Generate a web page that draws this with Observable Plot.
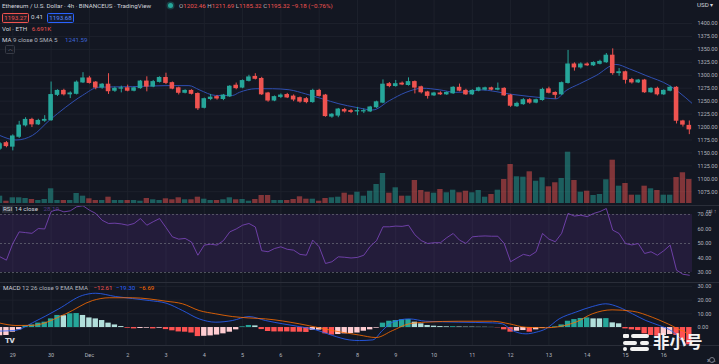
<!DOCTYPE html>
<html><head><meta charset="utf-8">
<script src="https://cdn.jsdelivr.net/npm/d3@7"></script>
<script src="https://cdn.jsdelivr.net/npm/@observablehq/plot@0.6"></script>
<style>
body{margin:0;background:#131722;}
#wrap{position:relative;width:719px;height:364px;background:#131722;overflow:hidden;font-family:Roboto,"Liberation Sans",sans-serif;}
.layer{position:absolute;left:0;}
.t{position:absolute;white-space:nowrap;font-size:6.2px;color:#b2b5be;line-height:1;}
.sep{position:absolute;background:#2a2e39;}
</style></head><body>
<div id="wrap">
  <div class="layer" id="priceGrid" style="top:0"></div>
  <div class="layer" id="vol" style="top:0"></div>
  <div class="layer" id="price" style="top:0"></div>
  <div class="layer" id="rsi" style="top:206px"></div>
  <div class="layer" id="macd" style="top:283px"></div>
  <div class="sep" style="left:0;top:205px;width:719px;height:1px"></div>
  <div class="sep" style="left:0;top:282px;width:719px;height:1px"></div>
  <div class="sep" style="left:0;top:345px;width:719px;height:1px"></div>

  <div class="t" style="left:2px;top:3px;color:#d1d4dc">Ethereum / U.S. Dollar · 4h · BINANCEUS · TradingView</div>
  <div style="position:absolute;left:168px;top:3px;width:5px;height:5px;border-radius:50%;background:#26a69a;box-shadow:0 0 0 1.5px rgba(38,166,154,0.3)"></div>
  <div class="t" style="left:179px;top:3px">O<span style="color:#ef5350">1202.46</span> H<span style="color:#ef5350">1211.69</span> L<span style="color:#ef5350">1185.32</span> C<span style="color:#ef5350">1195.32 −9.18 (−0.76%)</span></div>
  <div class="t" style="left:2px;top:12.5px;width:25px;height:8px;border:0.8px solid #ef5350;border-radius:1.5px;color:#ef5350;text-align:center;line-height:8px;background:rgba(239,83,80,0.08)">1193.27</div>
  <div class="t" style="left:31px;top:14px;color:#d1d4dc">0.41</div>
  <div class="t" style="left:47px;top:12.5px;width:25px;height:8px;border:0.8px solid #2962ff;border-radius:1.5px;color:#5b8cff;text-align:center;line-height:8px;background:rgba(41,98,255,0.08)">1193.68</div>
  <div class="t" style="left:2px;top:26px;color:#d1d4dc">Vol · ETH <span style="color:#ef5350;margin-left:3px">6.691K</span></div>
  <div class="t" style="left:2px;top:36.5px;color:#d1d4dc">MA <span style="color:#b2b5be">9 close 0 SMA 5</span> <span style="color:#3d63d8;margin-left:6px">1241.59</span></div>
  <div class="t" style="left:5px;top:45px;width:8px;height:7px;border:0.8px solid #363a45;border-radius:1.5px;text-align:center;line-height:7px;font-size:5px">︿</div>

  <div class="t" style="left:2px;top:206px;color:#d1d4dc"><span style="background:#2a2e39;padding:0 1px">RSI</span> 14 close <span style="color:#7e57c2;margin-left:4px;opacity:0.6">28.10</span></div>
  <div class="t" style="left:3px;top:285px;color:#d1d4dc">MACD <span style="color:#b2b5be">12 26 close 9 EMA EMA</span> <span style="color:#ef5350;margin-left:4px">−12.61</span> <span style="color:#2962ff;margin-left:2px">−19.30</span> <span style="color:#ff6d00;margin-left:2px">−6.69</span></div>
  <div class="t" style="left:697px;top:2px;color:#d1d4dc">USD ▾</div>
  <div class="t" style="left:5px;top:337px;color:#d1d4dc;font-weight:900;font-size:8px;letter-spacing:-0.5px">TV</div>
  <div style="position:absolute;left:709px;top:357px;width:4px;height:4px;border:0.8px solid #787b86;border-radius:50%"></div>

  <div style="position:absolute;left:623px;top:334px;width:6px;height:4px;border-radius:1px;background:#f2f2f2"></div>
  <div style="position:absolute;left:631px;top:334px;width:18px;height:4px;border-radius:2px;background:#f2f2f2"></div>
  <div style="position:absolute;left:623px;top:340.5px;width:14px;height:4px;border-radius:2px;background:#f2f2f2"></div>
  <div style="position:absolute;left:640px;top:340.5px;width:9px;height:4px;border-radius:2px;background:#f2f2f2"></div>
  <div style="position:absolute;left:623px;top:347px;width:4px;height:4px;border-radius:50%;background:#f2f2f2"></div>
  <div style="position:absolute;left:630px;top:347px;width:19px;height:4px;border-radius:2px;background:#f2f2f2"></div>
  <div class="t" style="left:653px;top:333px;height:17px;line-height:17px;color:#f2f2f2;font-size:16.5px;font-weight:700;font-family:'Noto Sans CJK SC',sans-serif">非小号</div>
</div>
<script>
// ---- data ----
const dayIdx = [2,8,14,20,26,32,38,44,50,56,62,68,74,80,86,92,98,104];
const dayLabels = ["29","30","Dec","2","3","4","5","6","7","8","9","10","11","12","13","14","15","16"];
const priceTicks = [1075,1100,1125,1150,1175,1200,1225,1250,1275,1300,1325,1350,1375,1400];
const rsiTicks = [30,40,50,60,70];
const rsiLevels = [30,50,70];
const macdTicks = [0,10,20,30];

const openP = [1158,1169,1162,1181,1203,1214,1205,1212,1213,1262,
1270,1263,1264,1286,1294,1286,1276,1282,1270,1274,
1275,1270,1275,1288,1278,1287,1295,1285,1275,1266,
1270,1264,1237,1254,1258,1254,1259,1280,1276,1289,
1297,1293,1265,1251,1258,1262,1259,1256,1254,1248,
1270,1261,1220,1222,1233,1231,1230,1230,1230,1238,
1247,1283,1279,1284,1281,1287,1277,1267,1261,1265,
1263,1265,1276,1270,1263,1270,1272,1275,1272,1274,
1261,1240,1244,1252,1247,1252,1273,1266,1263,1285,
1321,1315,1321,1319,1322,1325,1338,1304,1306,1291,
1286,1290,1267,1274,1263,1270,1276,1211,1202.46];
const highP = [1170,1172,1185,1211,1218,1217,1215,1222,1287,1272,
1273,1268,1289,1305,1298,1288,1284,1303,1277,1279,
1281,1277,1290,1297,1290,1297,1304,1287,1277,1272,
1272,1266,1256,1263,1261,1263,1280,1285,1291,1300,
1303,1296,1267,1260,1264,1265,1262,1258,1257,1273,
1273,1263,1226,1236,1236,1234,1238,1235,1240,1250,
1291,1286,1290,1287,1295,1289,1279,1269,1267,1268,
1268,1278,1283,1273,1272,1277,1277,1277,1285,1276,
1263,1248,1255,1255,1254,1275,1277,1268,1287,1348,
1324,1324,1324,1326,1329,1342,1351,1313,1308,1294,
1292,1292,1276,1277,1272,1279,1278,1213,1211.69];
const lowP = [1155,1160,1154,1178,1200,1199,1203,1209,1211,1259,
1260,1255,1262,1284,1283,1272,1273,1263,1267,1266,
1268,1268,1273,1268,1276,1285,1282,1272,1262,1264,
1262,1232,1235,1251,1252,1251,1257,1272,1274,1287,
1291,1261,1248,1249,1255,1255,1249,1246,1245,1246,
1258,1219,1217,1218,1227,1226,1222,1226,1228,1236,
1245,1276,1277,1280,1279,1264,1264,1254,1259,1261,
1261,1263,1268,1261,1261,1268,1270,1270,1270,1259,
1238,1238,1242,1244,1245,1250,1264,1254,1261,1283,
1308,1312,1317,1317,1320,1323,1300,1298,1283,1283,
1284,1265,1265,1260,1261,1268,1206,1200,1185.32];
const closeP = [1167,1163,1182,1203,1214,1205,1212,1214,1262,1270,
1263,1265,1286,1294,1285,1276,1282,1269,1274,1275,
1270,1275,1288,1278,1287,1295,1285,1274,1266,1270,
1264,1236,1254,1257,1255,1261,1278,1275,1289,1296,
1293,1263,1251,1258,1261,1257,1253,1249,1248,1270,
1260,1221,1224,1234,1230,1229,1231,1231,1238,1248,
1282,1279,1283,1282,1287,1276,1267,1260,1265,1263,
1266,1276,1270,1263,1270,1275,1275,1272,1274,1261,
1241,1245,1252,1247,1252,1272,1266,1262,1285,1321,
1315,1321,1319,1324,1326,1338,1304,1306,1291,1286,
1290,1267,1274,1263,1270,1276,1212,1204.5,1195.32];
const volumeK = [2.04,0.64,1.59,1.59,1.40,1.12,0.84,1.12,4.10,0.84,
0.84,0.84,2.79,2.04,1.31,0.84,0.84,1.76,0.84,0.84,
0.84,0.84,0.64,1.40,1.03,0.84,1.31,1.03,1.59,1.03,
1.03,1.76,1.20,0.84,0.84,1.03,1.59,1.03,1.12,0.64,
1.12,2.23,2.23,0.84,0.84,0.84,1.12,1.87,1.20,1.20,
0.64,1.40,1.59,1.76,2.87,2.32,3.15,2.04,3.43,5.30,
8.37,2.87,4.38,2.04,2.04,6.42,3.63,3.15,2.87,3.91,
2.99,3.71,2.99,3.43,2.99,3.63,1.76,2.51,3.71,6.70,
10.88,7.45,7.34,8.84,6.22,7.17,4.66,5.78,6.98,14.31,
6.42,3.15,3.43,2.23,2.51,6.61,12.08,4.83,5.58,2.32,
2.32,4.83,4.10,3.63,2.32,2.32,7.25,8.57,6.69];
const rsiValues = [40.8,38.5,50,58,57.5,57,60.3,60,72,73.4,
71.8,72.5,75.3,76,73,70.7,66,63.8,64,63.5,
62.6,63.8,67.2,62.6,65,67.2,61,54.6,53,53.5,
51,41.9,48.9,49.5,48.9,52,58,60,62.6,63.8,
61.4,45,44.3,46.5,47.7,46,45.4,42.5,41.9,52.3,
47.7,36.2,37.4,40.8,40.5,40,40.4,41.9,48,52,
61.5,61.5,62,61.8,62.6,56,52,50,50.5,50.5,
54,56.9,52.3,50,54.6,55,55.2,55,55,50,
37.4,40,42.5,41.5,44.3,56.9,53,51.2,57,70.7,
68.9,69.5,68.5,70.7,72,74.1,59.2,56.9,50,49,
50,43.1,44.3,41.9,45,48.9,31.6,28.8,28.1];
const histValues = [-6.0,-5.8,-3.4,-1.7,1.2,1.9,3.2,3.9,6.3,8.8,
8.6,10,10.2,8.8,7,6.3,5.1,3.2,1.9,0.7,
-0.5,-1,-0.7,-0.5,-1,-0.5,-1.5,-2.4,-3.2,-3.4,
-4,-6.6,-6.4,-6.1,-5.5,-4.6,-3.4,-1.7,0.5,1.5,
1.2,-1.5,-2.9,-3.2,-3.2,-3.2,-3.4,-3.4,-3.6,-2,
-1.9,-4.6,-5.5,-5.1,-4.6,-4.4,-4,-2.7,-1.7,-0.5,
3.2,4.6,5.1,5.6,5.8,3.9,2.7,1.5,1,0.7,
0.5,0.6,0.4,0.3,0.3,0.2,0.2,0.1,-0.2,-1.7,
-3.4,-2.7,-2.2,-3.4,-1.7,-0.5,-0.2,0.5,1.9,4.6,
5.8,6.6,7,6.3,6.3,6.5,3.4,2.7,-1,-1.7,
-2.2,-4.6,-5.8,-6.3,-5.8,-5.1,-5.8,-9.5,-12.61];
const maIdx = [0,2.5,5.1,7.7,10.3,12.9,15.5,20.7,26,29.6,31.2,33.8,36.4,37.5,40.1,42.7,45.3,47.9,50.5,53.1,55.8,58.4,61,63.6,66.2,68.8,71.4,74,75.1,80.3,85.5,87.1,88.7,90.8,93.4,96.5,98.6,101.2,104.9,106.4,108.5];
const maValues = [1183.6,1175,1184,1212.6,1238.5,1261,1277,1278,1280,1280,1272,1261,1261,1267,1274,1274,1272,1264,1254.5,1245,1238,1233,1251,1267,1275,1272,1267,1269,1272,1263,1256,1254.5,1270.5,1283.5,1299.5,1321,1312.5,1299.5,1280,1267,1245];
const macdIdx = [0,2.5,5.1,9.2,12.9,15,18.1,23.4,26,28.6,31.2,33.8,36.4,39,41.6,44.3,46.9,49.5,52.1,54.7,56.3,58.4,59.9,61.5,64.1,66.7,71.9,77.2,78.7,80.3,82.4,84,85.5,87.6,90.2,92.8,94.9,97,99.1,101.2,103.3,105.4,106.4,107.5,108];
const macdValues = [-2.6,-2,3.5,13.6,23.4,25,22.6,19.7,17.8,12.4,6.3,3.9,5.1,8,5.1,2.7,0.7,-1.7,-5.8,-9,-9.5,-9,-2.2,3.9,6.3,4.6,3.9,3.4,2.7,-2.2,-4.6,-3.4,-1,6.3,11.2,15.3,17.3,14.8,10,5.1,1.5,-3,-7,-13,-19.3];
const signalIdx = [0,2.5,5.1,10.3,14.5,17.1,20.7,26,28.6,31.2,33.8,36.4,39,41.6,46.9,50,52.1,56.3,58.9,61.5,64.1,66.7,71.9,77.2,79.8,82.4,85.5,90.2,92.8,95.9,99.1,102.2,104,105.4,106.4,107.5,108];
const signalValues = [3.2,1.5,1.6,10,19.7,21.7,21.7,19.2,17.3,12.4,10,8,7,6.3,2.7,-0.2,-2.2,-5.5,-7.3,-2.2,2.7,3.9,4.6,4.6,2.7,0.2,-0.2,3.9,10,12.9,11.9,7.5,4,1,-1.5,-3.8,-6.69];

// ---- build ----
const teal = "#26a69a", red = "#ef5350", gridC = "#1d212c", axisC = "#b2b5be";
const xDom = [0.072, 108.5];
const candles = openP.map((o, i) => ({i, o, h: highP[i], l: lowP[i], c: closeP[i], v: volumeK[i], rsi: rsiValues[i], hist: histValues[i]}));
const col = d => d.c >= d.o ? teal : red;
const histCol = candles.map((d, i) => {
  const prev = i > 0 ? histValues[i - 1] : -Infinity;
  if (d.hist >= 0) return prev < d.hist ? "#26a69a" : "#b2dfdb";
  return prev < d.hist ? "#ffcdd2" : "#ff5252";
});
const maData = maIdx.map((x, k) => ({x, y: maValues[k]}));
const macdData = macdIdx.map((x, k) => ({x, y: macdValues[k]}));
const signalData = signalIdx.map((x, k) => ({x, y: signalValues[k]}));
const labelOf = new Map(dayIdx.map((d, k) => [d, dayLabels[k]]));
const style = {background: "transparent", color: axisC, fontFamily: "Roboto, 'Liberation Sans', sans-serif", fontSize: "5.5px"};
const base = {width: 719, marginLeft: 0, marginRight: 27, style};
const axisR = (ticks) => Plot.axisY(ticks, {anchor: "right", tickSize: 0, tickPadding: 5, tickFormat: d => d.toFixed(2), fill: axisC, fontSize: 5.5});

const priceY = {domain: [1048.5, 1444.4], axis: null};
document.getElementById("priceGrid").append(Plot.plot({...base, height: 205, marginTop: 0, marginBottom: 0,
  x: {domain: xDom, axis: null}, y: priceY,
  marks: [
    Plot.ruleX(dayIdx, {stroke: gridC}),
    Plot.ruleY(priceTicks, {stroke: gridC}),
    axisR(priceTicks)
  ]}));

document.getElementById("vol").append(Plot.plot({...base, height: 205, marginTop: 131.3, marginBottom: 2,
  x: {domain: xDom, axis: null}, y: {domain: [0, 20], axis: null},
  marks: [
    Plot.rect(candles, {x1: d => d.i - 0.42, x2: d => d.i + 0.42, y1: 0, y2: "v", fill: col, fillOpacity: 0.5, clip: true})
  ]}));

document.getElementById("price").append(Plot.plot({...base, height: 205, marginTop: 0, marginBottom: 0,
  x: {domain: xDom, axis: null}, y: priceY,
  marks: [
    Plot.line(maData, {x: "x", y: "y", stroke: "#2f4fb0", strokeWidth: 1, curve: "monotone-x", clip: true}),
    Plot.ruleX(candles, {x: "i", y1: "l", y2: "h", stroke: col, strokeWidth: 1, clip: true}),
    Plot.rect(candles, {x1: d => d.i - 0.36, x2: d => d.i + 0.36, y1: "o", y2: "c", fill: col, insetTop: -0.4, insetBottom: -0.4, clip: true})
  ]}));

document.getElementById("rsi").append(Plot.plot({...base, height: 76, marginTop: 0, marginBottom: 0,
  x: {domain: xDom, axis: null}, y: {domain: [23.1, 75.5], axis: null},
  marks: [
    Plot.ruleX(dayIdx, {stroke: gridC}),
    Plot.rect([rsiLevels], {y1: d => d[0], y2: d => d[2], fill: "#8a3fd0", fillOpacity: 0.14}),
    Plot.ruleY(rsiLevels, {stroke: "#787b86", strokeOpacity: 0.6, strokeDasharray: "2,2"}),
    Plot.line(candles, {x: "i", y: "rsi", stroke: "#7a45b8", strokeOpacity: 0.85, strokeWidth: 1, clip: true}),
    axisR(rsiTicks)
  ]}));

document.getElementById("macd").append(Plot.plot({...base, height: 81, marginTop: 0, marginBottom: 19,
  x: {domain: xDom, axis: null}, y: {domain: [-13.1, 32.1], axis: null},
  marks: [
    Plot.ruleX(dayIdx, {stroke: gridC}),
    Plot.ruleY(macdTicks, {stroke: gridC}),
    Plot.rect(candles, {x1: d => d.i - 0.42, x2: d => d.i + 0.42, y1: 0, y2: "hist", fill: d => histCol[d.i], clip: true}),
    Plot.line(macdData, {x: "x", y: "y", stroke: "#2962ff", strokeOpacity: 0.9, strokeWidth: 0.9, curve: "monotone-x", clip: true}),
    Plot.line(signalData, {x: "x", y: "y", stroke: "#ff6d00", strokeOpacity: 0.9, strokeWidth: 0.9, curve: "monotone-x", clip: true}),
    axisR(macdTicks),
    Plot.axisX(dayIdx, {anchor: "bottom", tickSize: 0, tickPadding: 8, tickFormat: d => labelOf.get(d), fill: axisC, fontSize: 5.5})
  ]}));
</script>
</body></html>
